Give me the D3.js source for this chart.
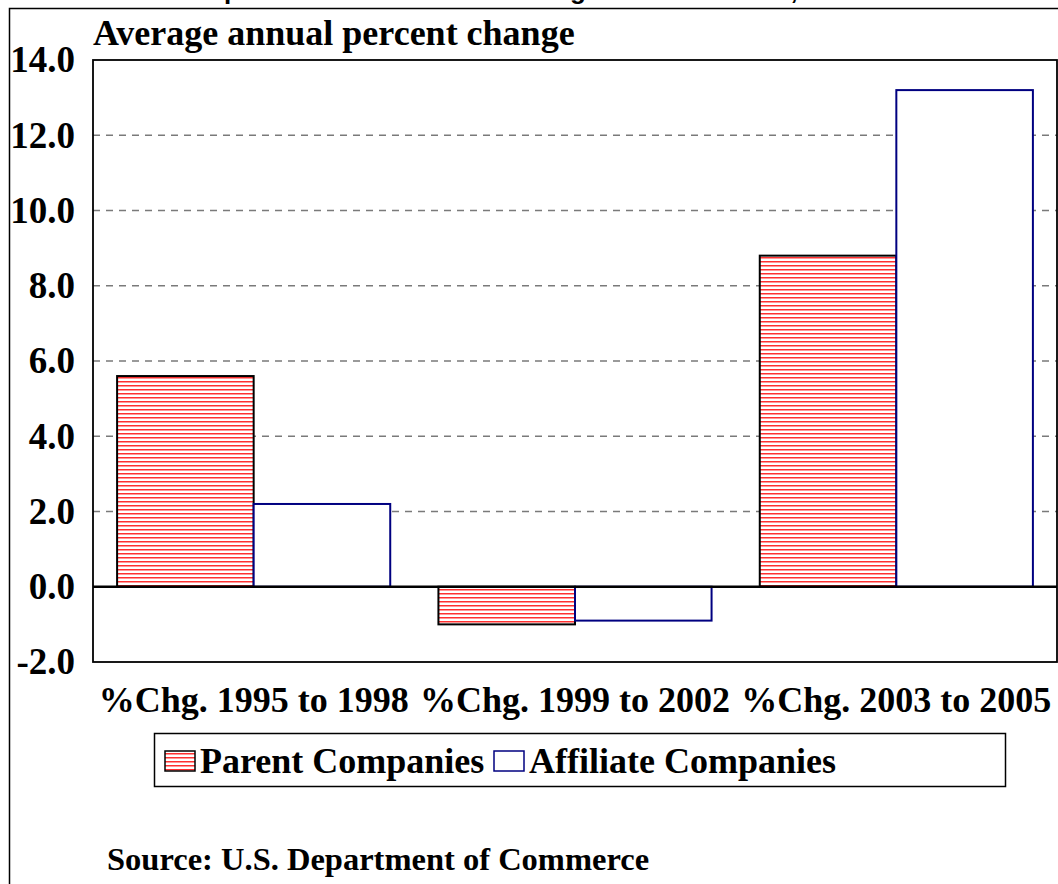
<!DOCTYPE html>
<html><head><meta charset="utf-8">
<script src="https://cdn.jsdelivr.net/npm/d3@7"></script>
<style>body{margin:0;background:#fff}svg{display:block}</style>
</head><body>
<svg id="c" width="1058" height="884"></svg>
<script>
const categories = ["%Chg. 1995 to 1998", "%Chg. 1999 to 2002", "%Chg. 2003 to 2005"];
const seriesNames = ["Parent Companies", "Affiliate Companies"];
const parentValues = [5.6, -1.0, 8.8];
const affiliateValues = [2.2, -0.9, 13.2];
const yTicks = [-2, 0, 2, 4, 6, 8, 10, 12, 14];
const titleText = "U.S. Parent Companies' Value Added Change in Investment, 1995-2005";

const svg = d3.select("#c");
const serif = "'Liberation Serif','Times New Roman',serif";
const m = {left: 93, right: 1057, top: 60, bottom: 662};

const defs = svg.append("defs");
const pat = defs.append("pattern").attr("id","hatch").attr("patternUnits","userSpaceOnUse")
  .attr("width",8).attr("height",4);
pat.append("rect").attr("width",8).attr("height",4).attr("fill","#fff");
pat.append("rect").attr("y",1).attr("width",8).attr("height",1.5).attr("fill","#ff3030");

// cropped title (only its descenders show above the frame, as in the reference)
const tt = svg.append("text").attr("x", 0).attr("y", -1)
  .attr("font-family","'Liberation Sans',Arial,sans-serif").attr("font-weight","bold").attr("font-size",26)
  .text(titleText);
{
  const node = tt.node();
  const ip = titleText.indexOf("panies"), ig = titleText.indexOf("ge in");
  const px = node.getStartPositionOfChar(ip).x, gx = node.getStartPositionOfChar(ig).x;
  const ls = (570 - 224 - (gx - px)) / (ig - ip);
  tt.attr("letter-spacing", ls);
  const px2 = node.getStartPositionOfChar(ip).x;
  tt.attr("x", 224 - px2);
}

// outer border
svg.append("path").attr("d","M9.5,884 V8.5 H1060").attr("fill","none").attr("stroke","#000").attr("stroke-width",1.5);

const y = d3.scaleLinear().domain([-2,14]).range([m.bottom, m.top]);
const x0 = d3.scaleBand().domain(categories).range([m.left, m.right]).paddingInner(0.15).paddingOuter(0.075);
const x1 = d3.scaleBand().domain(seriesNames).range([0, x0.bandwidth()]);

// grid
svg.append("g").selectAll("line").data(yTicks.filter(d=>d>-2 && d<14 && d!==0)).join("line")
  .attr("x1",m.left).attr("x2",m.right).attr("y1",d=>y(d)).attr("y2",d=>y(d))
  .attr("stroke","#7a7a7a").attr("stroke-width",1.6).attr("stroke-dasharray","7,6");

// y axis labels
const yAxis = d3.axisLeft(y).tickValues(yTicks).tickFormat(d=>d.toFixed(1)).tickSize(0).tickPadding(18);
const ga = svg.append("g").attr("transform",`translate(${m.left},0)`).call(yAxis);
ga.select(".domain").remove();
ga.selectAll("text").attr("font-family",serif).attr("font-weight","bold").attr("font-size",37).attr("fill","#000");

// bars
const data = categories.map((c,i)=>({c, vals:[parentValues[i], affiliateValues[i]]}));
const g = svg.append("g");
data.forEach(d=>{
  d.vals.forEach((v,j)=>{
    const xx = x0(d.c) + x1(seriesNames[j]);
    g.append("rect").attr("x",xx).attr("width",x1.bandwidth())
      .attr("y",y(Math.max(0,v))).attr("height",Math.abs(y(v)-y(0)))
      .attr("fill", j===0 ? "url(#hatch)" : "#fff")
      .attr("stroke", j===0 ? "#000" : "#000080").attr("stroke-width", 2);
  });
});

// zero line and frame
svg.append("line").attr("x1",m.left).attr("x2",m.right).attr("y1",y(0)).attr("y2",y(0)).attr("stroke","#000").attr("stroke-width",2.5);
svg.append("rect").attr("x",m.left).attr("y",m.top).attr("width",m.right-m.left).attr("height",m.bottom-m.top)
  .attr("fill","none").attr("stroke","#000").attr("stroke-width",1.8);

// axis title
svg.append("text").attr("x",93).attr("y",45).attr("font-family",serif).attr("font-weight","bold").attr("font-size",36)
  .text("Average annual percent change");

// x labels
const xAxis = d3.axisBottom(x0).tickSize(0).tickPadding(0);
const gx = svg.append("g").attr("transform",`translate(0,${m.bottom})`).call(xAxis);
gx.select(".domain").remove();
gx.selectAll("text").attr("font-family",serif).attr("font-weight","bold").attr("font-size",36).attr("fill","#000")
  .attr("dy",null).attr("y",50);

// legend
svg.append("rect").attr("x",154.5).attr("y",733.5).attr("width",851).attr("height",53).attr("fill","#fff").attr("stroke","#000").attr("stroke-width",1.5);
const legX = [165, 494];
seriesNames.forEach((s,j)=>{
  svg.append("rect").attr("x",legX[j]).attr("y",751).attr("width",30).attr("height",20)
    .attr("fill", j===0 ? "url(#hatch)" : "#fff").attr("stroke", j===0 ? "#000" : "#000080").attr("stroke-width",1.5);
  svg.append("text").attr("x",legX[j]+35).attr("y",773).attr("font-family",serif).attr("font-weight","bold").attr("font-size",36).text(s);
});

// source
svg.append("text").attr("x",107).attr("y",870).attr("font-family",serif).attr("font-weight","bold").attr("font-size",32.5)
  .text("Source: U.S. Department of Commerce");
</script>
</body></html>
